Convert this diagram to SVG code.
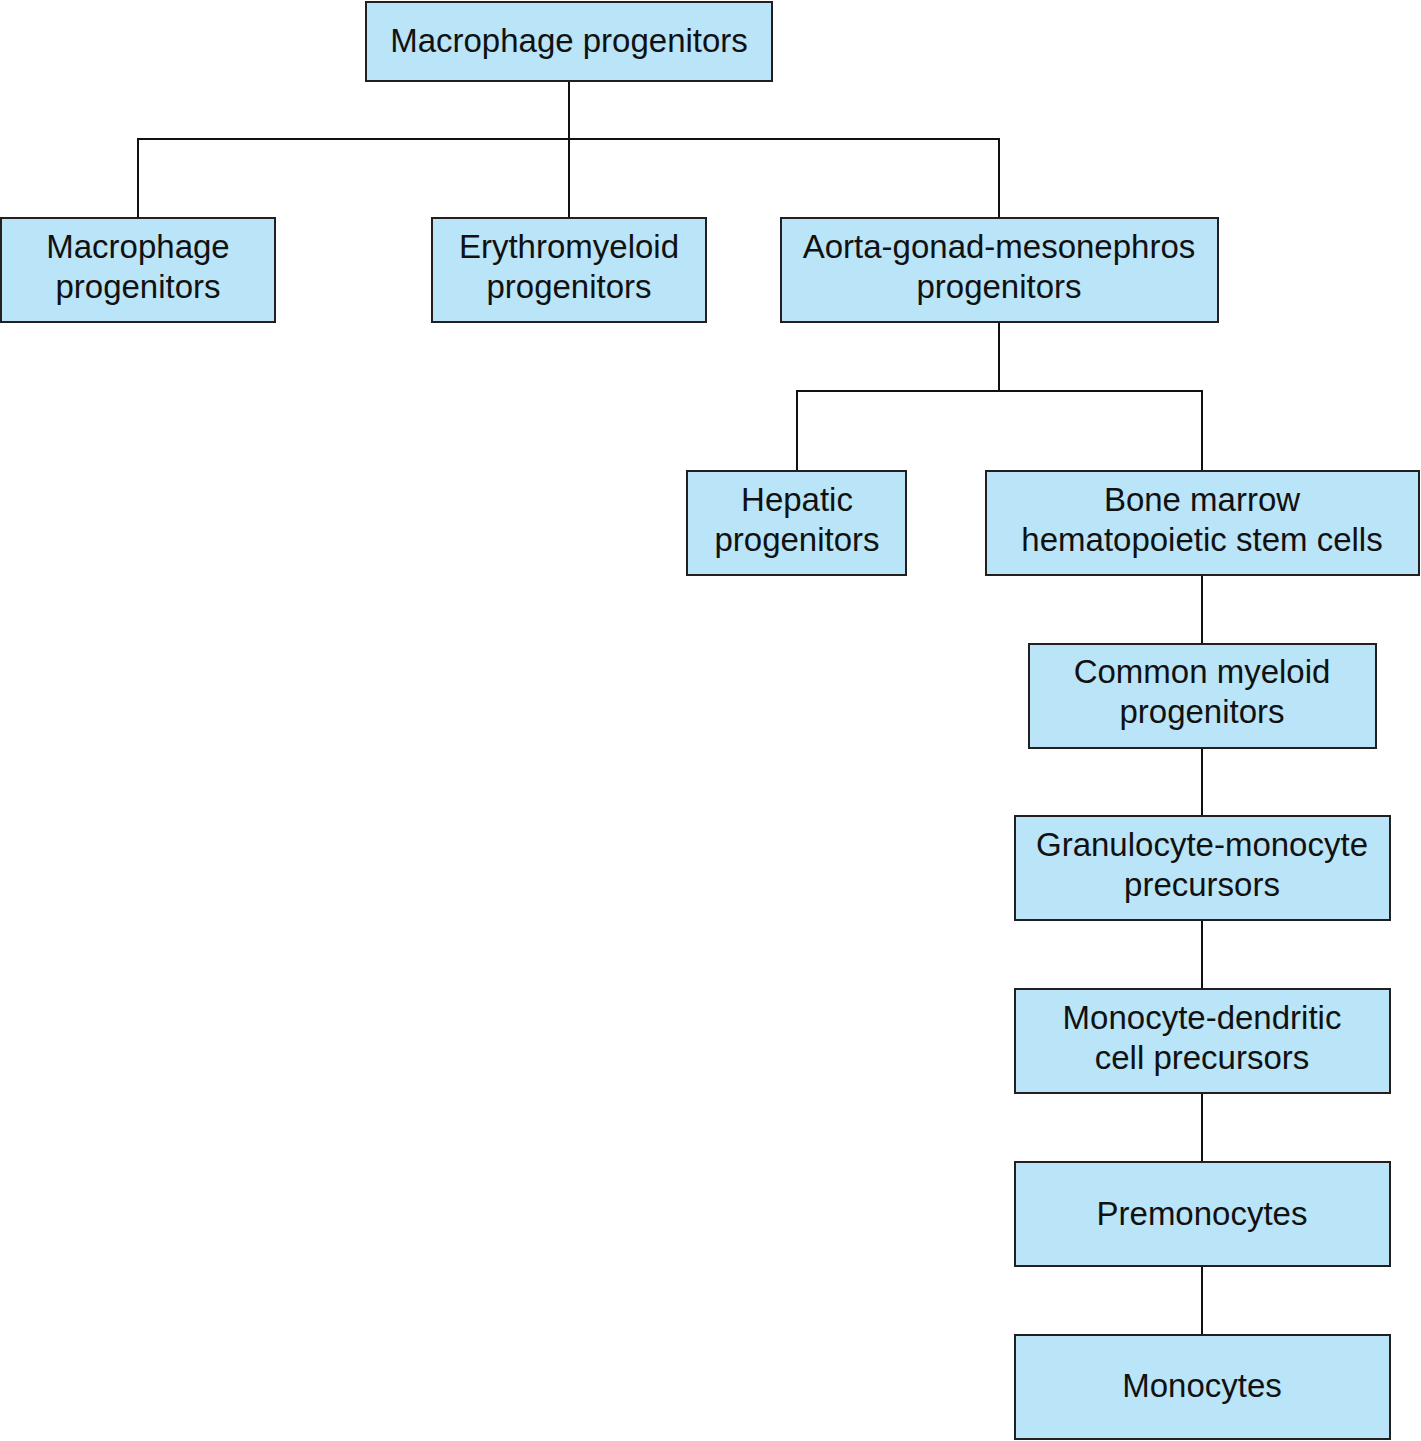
<svg xmlns="http://www.w3.org/2000/svg" width="1421" height="1441" viewBox="0 0 1421 1441">
<style>
rect{fill:#bae4f7;stroke:#231f20;stroke-width:2}
text{font-family:"Liberation Sans",Arial,sans-serif;font-size:33px;fill:#111;text-anchor:middle}
#connectors path{fill:none;stroke:#111;stroke-width:2}
</style>
<rect x="0" y="0" width="1421" height="1441" style="fill:#fff;stroke:none"/>
<g id="connectors">
<path d="M569 81V139M138 218V139H999V218M569 139V218"/>
<path d="M999 322V391M797 471V391H1202V471"/>
<path d="M1202 575V644M1202 748V816M1202 920V989M1202 1093V1162M1202 1266V1335"/>
</g>
<g id="n1"><rect x="366" y="2" width="406" height="79"/><text x="569" y="52">Macrophage progenitors</text></g>
<g id="n2"><rect x="1" y="218" width="274" height="104"/><text x="138" y="258">Macrophage</text><text x="138" y="298">progenitors</text></g>
<g id="n3"><rect x="432" y="218" width="274" height="104"/><text x="569" y="258">Erythromyeloid</text><text x="569" y="298">progenitors</text></g>
<g id="n4"><rect x="781" y="218" width="437" height="104"/><text x="999" y="258">Aorta-gonad-mesonephros</text><text x="999" y="298">progenitors</text></g>
<g id="n5"><rect x="687" y="471" width="219" height="104"/><text x="797" y="511">Hepatic</text><text x="797" y="551">progenitors</text></g>
<g id="n6"><rect x="986" y="471" width="433" height="104"/><text x="1202" y="511">Bone marrow</text><text x="1202" y="551">hematopoietic stem cells</text></g>
<g id="n7"><rect x="1029" y="644" width="347" height="104"/><text x="1202" y="683">Common myeloid</text><text x="1202" y="723">progenitors</text></g>
<g id="n8"><rect x="1015" y="816" width="375" height="104"/><text x="1202" y="856">Granulocyte-monocyte</text><text x="1202" y="896">precursors</text></g>
<g id="n9"><rect x="1015" y="989" width="375" height="104"/><text x="1202" y="1029">Monocyte-dendritic</text><text x="1202" y="1069">cell precursors</text></g>
<g id="n10"><rect x="1015" y="1162" width="375" height="104"/><text x="1202" y="1225">Premonocytes</text></g>
<g id="n11"><rect x="1015" y="1335" width="375" height="104"/><text x="1202" y="1397">Monocytes</text></g>
</svg>
